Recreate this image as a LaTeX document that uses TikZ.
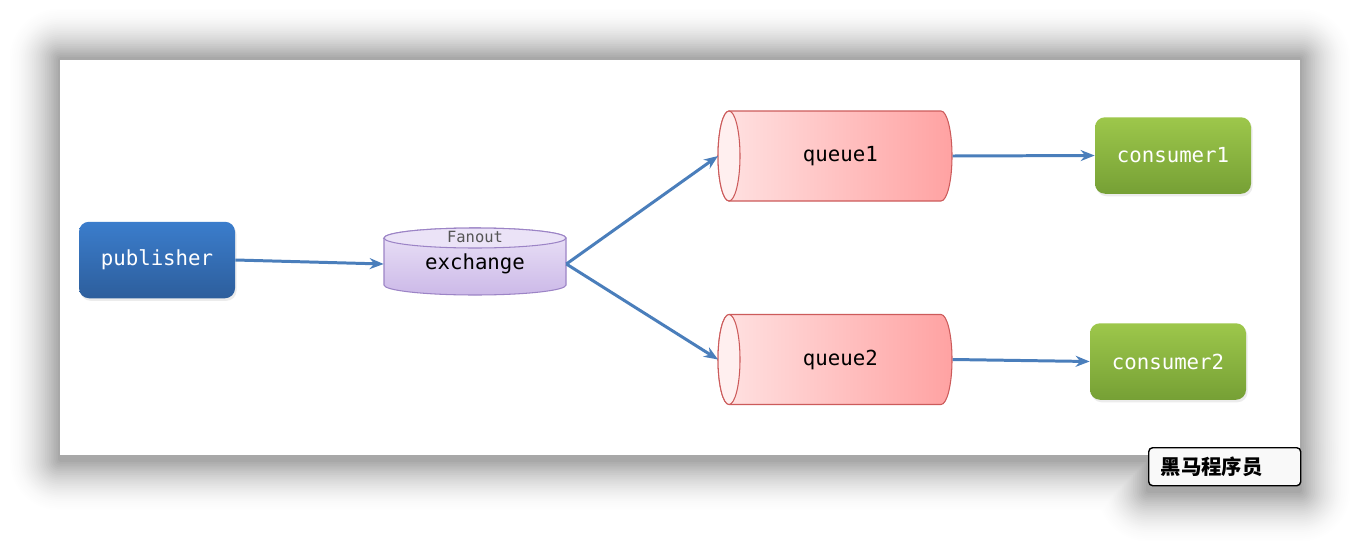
\documentclass[tikz,border=0pt]{standalone}
\usepackage{fontspec}
\setmonofont{DejaVu Sans Mono}
\newfontfamily\cjk{Noto Sans CJK SC}
\usetikzlibrary{arrows.meta,shadows}
\definecolor{pubtop}{HTML}{3B7DCC}
\definecolor{pubbot}{HTML}{2D5E9C}
\definecolor{constop}{HTML}{9DC74B}
\definecolor{consbot}{HTML}{76A035}
\definecolor{qleft}{HTML}{FFE3E3}
\definecolor{qright}{HTML}{FFA2A2}
\definecolor{qend}{HTML}{FFEFEF}
\definecolor{qline}{HTML}{CC5B5B}
\definecolor{extop}{HTML}{EBE3F7}
\definecolor{exbot}{HTML}{CCB9E8}
\definecolor{exline}{HTML}{9C84C6}
\definecolor{flowblue}{HTML}{4A7EBB}
\definecolor{fangrey}{HTML}{555555}
\definecolor{wmfill}{HTML}{F9F9F9}

\tikzset{
  mono/.style={font=\fontsize{11.8}{14}\selectfont\ttfamily},
  rbox/.style={mono, text=white, rounded corners=0.2cm, minimum width=3.12cm, minimum height=1.53cm,
    drop shadow={shadow xshift=0.03cm, shadow yshift=-0.05cm, opacity=0.15}},
  pubbox/.style={rbox, top color=pubtop, bottom color=pubbot},
  consbox/.style={rbox, top color=constop, bottom color=consbot},
  flow/.style={draw=flowblue, line width=1.7pt, -{Stealth[length=0.28cm,width=0.22cm]}},
}

\begin{document}
\begin{tikzpicture}
  \useasboundingbox (0,0) rectangle (27.2,10.9);
  % page shadow, outer rings first
  \foreach \s in {28,...,1}{
    \pgfmathsetmacro{\off}{\s*0.037}
    \pgfmathsetmacro{\pct}{34*((29-\s)/28)^1.8}
    \fill[black!\pct,rounded corners=\off cm] ({1.2-\off},{1.7-\off}) rectangle ({26+\off},{9.72+\off});
    \fill[black!\pct,rounded corners=\off cm] ({22.96-\off},{1.08-\off}) rectangle ({26+\off},{1.96+\off});
  }
  \fill[white] (1.2,1.8) rectangle (26,9.7);

  % exchange body
  \shade[top color=extop,bottom color=exbot,draw=exline,line width=0.6pt]
    (7.68,6.14) -- (7.68,5.2) arc[start angle=180,end angle=360,x radius=1.82cm,y radius=0.2cm]
    -- (11.32,6.14) arc[start angle=0,end angle=180,x radius=1.82cm,y radius=0.2cm] -- cycle;
  \draw[exline,fill=extop,line width=0.6pt] (9.5,6.14) ellipse[x radius=1.82cm,y radius=0.2cm];

  % queue bodies
  \foreach \y in {7.78,3.71}{
    \shade[left color=qleft,right color=qright,draw=qline,line width=0.6pt]
      (14.58,\y+0.9) -- (18.82,\y+0.9) arc[start angle=90,end angle=-90,x radius=0.22cm,y radius=0.9cm]
      -- (14.58,\y-0.9) arc[start angle=270,end angle=90,x radius=0.22cm,y radius=0.9cm] -- cycle;
    \draw[qline,fill=qend,line width=0.6pt] (14.58,\y) ellipse[x radius=0.22cm,y radius=0.9cm];
  }

  % nodes
  \node[pubbox] (publisher) at (3.14,5.7) {publisher};
  \node[mono, minimum width=3.64cm, minimum height=1.1cm] (exchange) at (9.5,5.62) {exchange};
  \node[font=\fontsize{8.8}{10}\selectfont\ttfamily, text=fangrey] (fanout) at (9.5,6.17) {Fanout};
  \node[mono, minimum width=4.68cm, minimum height=1.8cm] (queue1) at (14.36,7.78) [anchor=west] {\hspace*{0.2cm}queue1};
  \node[mono, minimum width=4.68cm, minimum height=1.8cm] (queue2) at (14.36,3.71) [anchor=west] {\hspace*{0.2cm}queue2};
  \node[consbox] (consumer1) at (23.46,7.79) {consumer1};
  \node[consbox] (consumer2) at (23.36,3.67) {consumer2};

  % flows
  \draw[flow] (publisher.east) -- (exchange.west);
  \draw[flow] (exchange.east) -- (queue1.west);
  \draw[flow] (exchange.east) -- (queue2.west);
  \draw[flow] (queue1.east) -- (consumer1.west);
  \draw[flow] (queue2.east) -- (consumer2.west);

  % watermark
  \node[draw=black, fill=wmfill, line width=0.8pt, rounded corners=0.08cm, anchor=north west,
    text width=2.56cm, inner xsep=0.24cm, minimum height=0.76cm,
    font=\cjk\bfseries\fontsize{11.6}{13}\selectfont] (watermark) at (22.96,1.96) {黑马程序员};
\end{tikzpicture}
\end{document}
